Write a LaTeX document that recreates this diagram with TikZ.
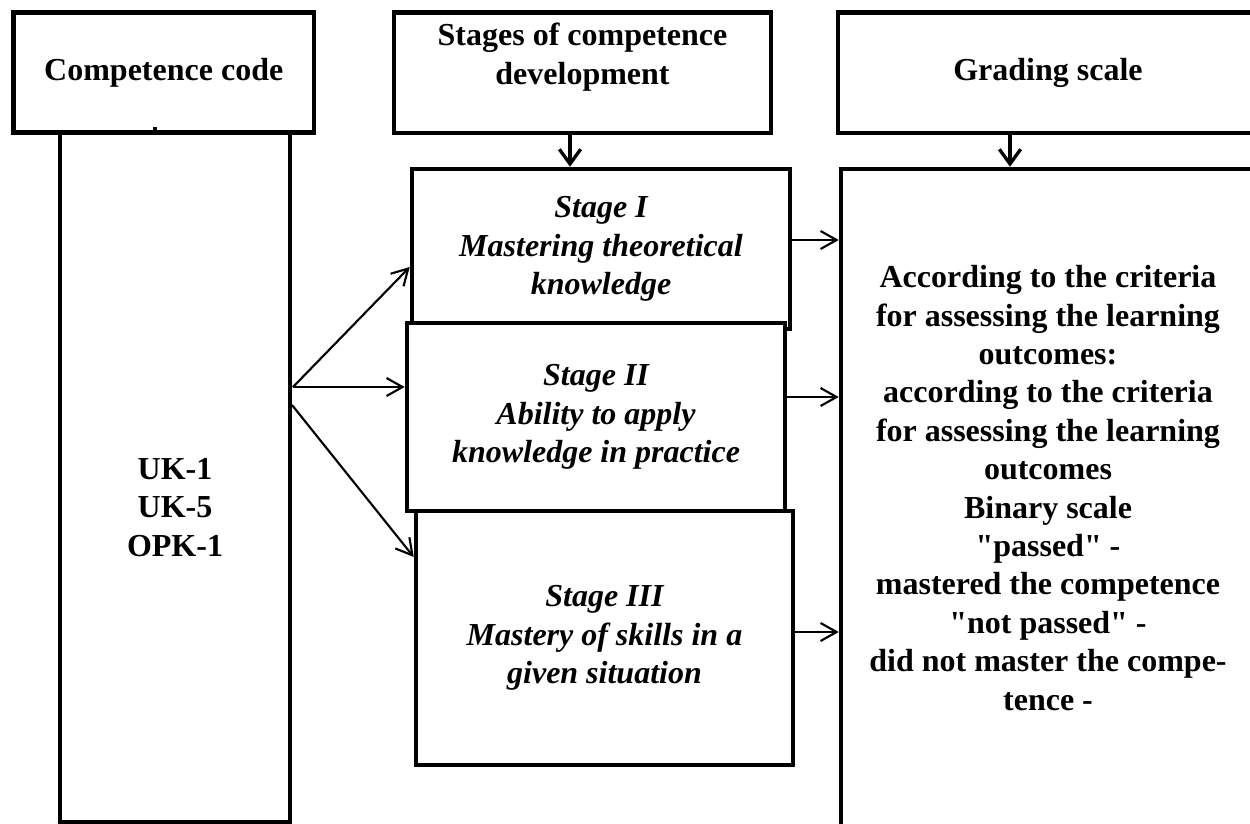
\documentclass[tikz,border=0pt]{standalone}
\usepackage{fontspec}
\setmainfont{Liberation Serif}
\usetikzlibrary{arrows.meta}

\begin{document}
\begin{tikzpicture}[x=0.75pt,y=0.75pt,yscale=-1,xscale=1,
  box/.style={draw,line width=3.4pt,fill=white,inner sep=0pt},
  txt/.style={align=center,inner sep=0.75pt,font=\fontsize{24}{28.8}\selectfont\bfseries},
  stagetxt/.style={txt,font=\fontsize{24}{28.8}\selectfont\bfseries\itshape},
  thinarrow/.style={line width=1.6pt,-{Straight Barb[length=12pt,width=13.5pt]}},
  downarrow/.style={line width=2.5pt,-{Straight Barb[length=11pt,width=16pt]}}]
\useasboundingbox (0,0) rectangle (1250,824);
\clip (0,0) rectangle (1250,824);

%Competence code column
\node [box,minimum width=172.5pt,minimum height=517.1pt] (codebox) at (175,477.25) {};
\node [box,txt,minimum width=225.4pt,minimum height=90pt] (code) at (163.75,72.5) {Competence code};
\fill (152.5,127.5) rectangle (156.5,131);
% Text Node
\node [txt] (codes) at (175,507.5) {UK-1\\UK-5\\OPK-1};

%Stages column
\node [box,minimum width=282.75pt,minimum height=90.4pt] (stages) at (582.5,72.75) {};
% Text Node
\node [txt] (stagestxt) at (582.5,57) {Stages of competence\\development};
\node [box,stagetxt,minimum width=283.5pt,minimum height=120pt] (st1) at (601,249) {Stage I\\Mastering theoretical\\knowledge};
\node [box,stagetxt,minimum width=283.5pt,minimum height=141pt] (st2) at (596,417) {Stage II\\Ability to apply\\knowledge in practice};
\node [box,stagetxt,minimum width=282.75pt,minimum height=190.5pt] (st3) at (604.5,638) {Stage III\\Mastery of skills in a\\given situation};

%Grading column
\node [box,txt,minimum width=315pt,minimum height=90.4pt] (grade) at (1048,72.75) {Grading scale};
\node [box,minimum width=310.5pt,minimum height=548.25pt] (gradebox) at (1048,534.5) {};
% Text Node
\node [txt] (gradetxt) at (1048,488) {According to the criteria\\for assessing the learning\\outcomes:\\according to the criteria\\for assessing the learning\\outcomes\\Binary scale\\\textquotedbl passed\textquotedbl{} -\\mastered the competence\\\textquotedbl not passed\textquotedbl{} -\\did not master the compe-\\tence -};

%Arrows
\coordinate (fanA) at (293,387);
\coordinate (fanB) at (292,405);
\draw [thinarrow] (fanA) -- (st1.west |- 0,267);
\draw [thinarrow] (fanA) -- (st2.west |- fanA);
\draw [thinarrow] (fanB) -- (st3.west |- 0,557);
\draw [thinarrow] (st1.east |- 0,240) -- (gradebox.west |- 0,240);
\draw [thinarrow] (st2.east |- 0,397) -- (gradebox.west |- 0,397);
\draw [thinarrow] (st3.east |- 0,632) -- (gradebox.west |- 0,632);
\draw [downarrow] (570,0 |- stages.south) -- (570,0 |- st1.north);
\draw [downarrow] (1010,0 |- grade.south) -- (1010,0 |- gradebox.north);

\end{tikzpicture}
\end{document}
